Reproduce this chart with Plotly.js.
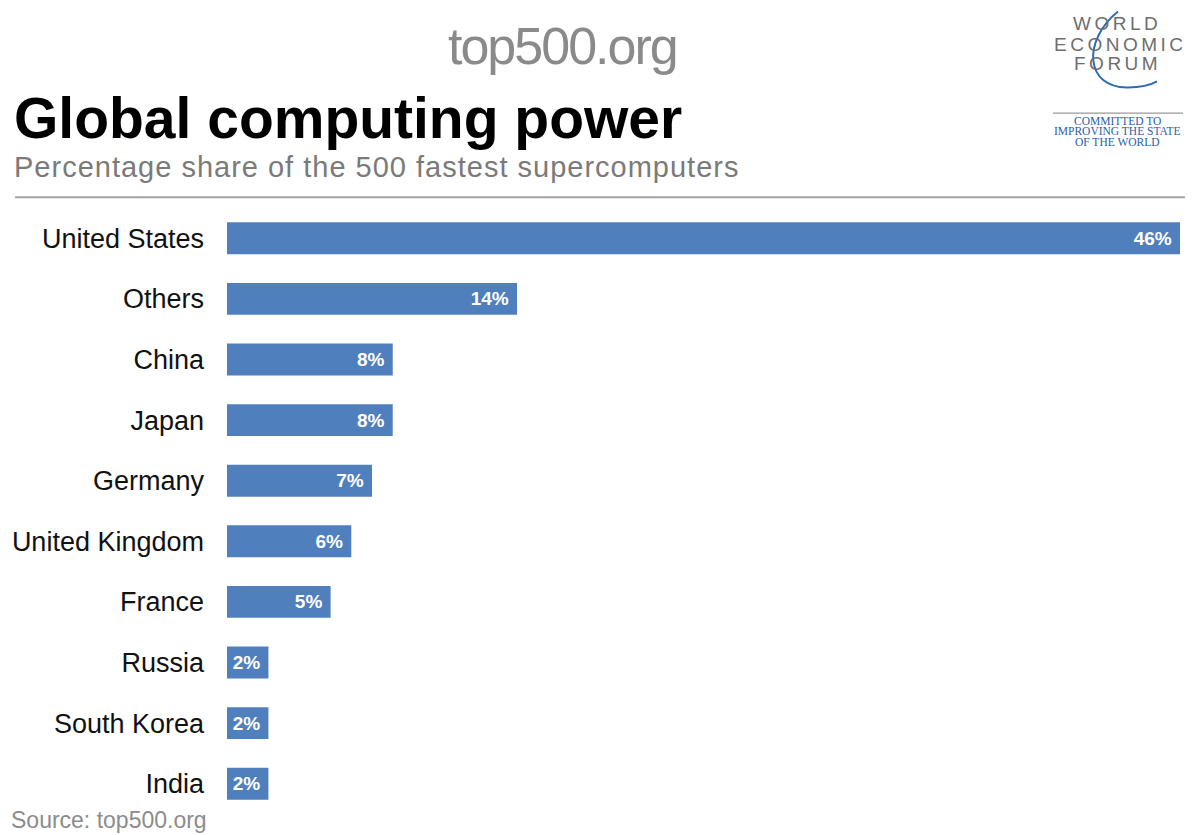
<!DOCTYPE html>
<html>
<head>
<meta charset="utf-8">
<script src="https://cdn.plot.ly/plotly-3.0.1.min.js"></script>
<style>html,body{margin:0;padding:0;background:#fff;}#chart{width:1199px;height:835px;}</style>
</head>
<body>
<div id="chart"></div>
<script>
// ---- data ----
const categories = ['United States', 'Others', 'China', 'Japan', 'Germany', 'United Kingdom', 'France', 'Russia', 'South Korea', 'India'];
const shares = [46, 14, 8, 8, 7, 6, 5, 2, 2, 2];
const titleText = 'Global computing power';
const subtitleText = 'Percentage share of the 500 fastest supercomputers';
const sourceText = 'Source: top500.org';
const watermarkText = 'top500.org';
const logoLines = ['WORLD', 'ECONOMIC', 'FORUM'];
const mottoLines = ['COMMITTED TO', 'IMPROVING THE STATE', 'OF THE WORLD'];

// ---- geometry helpers (pixel -> paper) ----
const W = 1199, H = 835;
const M = {l: 227, r: 19, t: 207.67, b: 20.67};
const PW = W - M.l - M.r, PH = H - M.t - M.b;
const px = x => (x - M.l) / PW;
const py = y => (H - M.b - y) / PH;
const P = (x, y) => px(x).toFixed(5) + ',' + py(y).toFixed(5);

const SANS = 'Liberation Sans, Arial, Helvetica, sans-serif';
const barColor = '#4f80bd';

const trace = {
  type: 'bar',
  orientation: 'h',
  y: categories,
  x: shares,
  marker: {color: barColor},
  text: shares.map(v => v + '%\u00a0'),
  textposition: 'inside',
  insidetextanchor: 'end',
  textangle: 0,
  constraintext: 'none',
  textfont: {family: SANS, size: 19, color: '#ffffff', weight: 'bold'},
  hoverinfo: 'skip',
  cliponaxis: false
};

function ann(text, x, y, opts) {
  return Object.assign({
    text: text, xref: 'paper', yref: 'paper', x: px(x), y: py(y),
    xanchor: 'left', yanchor: 'middle', showarrow: false
  }, opts || {});
}

const annotations = [
  ann(titleText, 12, 118, {font: {family: SANS, size: 57, color: '#000', weight: 'bold'}}),
  ann('<span style="letter-spacing:1px">' + subtitleText + '</span>', 12, 166.5,
      {font: {family: SANS, size: 29, color: '#7a7a7a'}}),
  ann(sourceText, 9, 820.5, {font: {family: SANS, size: 23, color: '#8c8c8c'}}),
  ann('<span style="letter-spacing:-2px">' + watermarkText + '</span>', 562, 45, {xanchor: 'center',
      font: {family: SANS, size: 52, color: '#8a8a8a'}}),
];
const logoY = [23, 43.5, 63.5];
const logoX = [1117, 1120, 1117];
logoLines.forEach((t, i) => {
  annotations.push(ann('<span style="letter-spacing:3.5px">' + t + '</span>', logoX[i], logoY[i],
    {xanchor: 'center', font: {family: SANS, size: 19, color: '#6e6e70'}}));
});
const mottoY = [120.5, 131, 141.5];
mottoLines.forEach((t, i) => {
  annotations.push(ann(t, 1117.5, mottoY[i],
    {xanchor: 'center', font: {family: 'Liberation Serif, Times New Roman, serif', size: 11.5, color: '#2d60a8'}}));
});

const shapes = [
  {type: 'line', xref: 'paper', yref: 'paper', x0: px(15), x1: px(1185), y0: py(197), y1: py(197),
   line: {color: '#a3a3a3', width: 2}},
  {type: 'line', xref: 'paper', yref: 'paper', x0: px(1053), x1: px(1183), y0: py(112.7), y1: py(112.7),
   line: {color: '#9a9a9a', width: 1.2}},
  {type: 'path', xref: 'paper', yref: 'paper',
   path: 'M ' + P(1118, 11) + ' C ' + P(1082, 40) + ' ' + P(1085, 88) + ' ' + P(1128, 87) +
         ' C ' + P(1140, 87) + ' ' + P(1150, 85) + ' ' + P(1157, 81),
   line: {color: '#2a6cb5', width: 2}}
];

const layout = {
  width: W, height: H,
  margin: M,
  paper_bgcolor: '#fff', plot_bgcolor: '#fff',
  showlegend: false,
  bargap: 0.473,
  xaxis: {range: [0, 46], visible: false, fixedrange: true},
  yaxis: {
    type: 'category', categoryorder: 'array', categoryarray: categories,
    range: [categories.length - 0.5, -0.5],
    showgrid: false, zeroline: false, showline: false, ticks: '',
    ticklabelstandoff: 22,
    tickfont: {family: SANS, size: 27, color: '#111'},
    fixedrange: true
  },
  annotations: annotations,
  shapes: shapes
};

Plotly.newPlot('chart', [trace], layout, {displayModeBar: false, staticPlot: true});
</script>
</body>
</html>
